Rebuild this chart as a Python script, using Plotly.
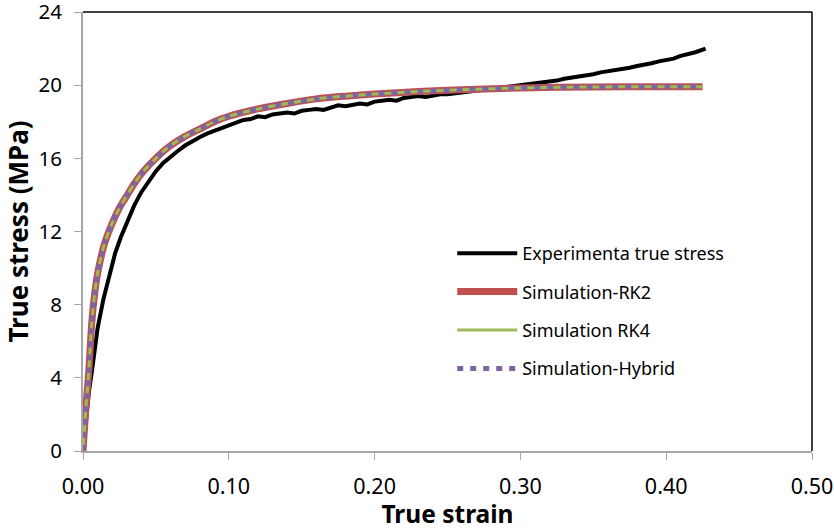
import plotly.graph_objects as go

exp_strain = [0, 0.002, 0.004, 0.006, 0.008, 0.010, 0.014, 0.018, 0.022, 0.026, 0.030, 0.035,
              0.040, 0.045, 0.050, 0.055, 0.060, 0.065, 0.070, 0.075, 0.080, 0.085, 0.090, 0.095,
              0.100, 0.105, 0.110, 0.115, 0.120, 0.125, 0.130, 0.135, 0.140, 0.145, 0.150, 0.155,
              0.160, 0.165, 0.170, 0.175, 0.180, 0.185, 0.190, 0.195, 0.200, 0.205, 0.210, 0.215,
              0.220, 0.225, 0.230, 0.235, 0.240, 0.245, 0.250, 0.255, 0.260, 0.265, 0.270, 0.275,
              0.280, 0.285, 0.290, 0.295, 0.300, 0.305, 0.310, 0.315, 0.320, 0.325, 0.330, 0.335,
              0.340, 0.345, 0.350, 0.355, 0.360, 0.365, 0.370, 0.375, 0.380, 0.385, 0.390, 0.395,
              0.400, 0.405, 0.410, 0.415, 0.420, 0.427]
exp_stress = [0, 1.8, 3.2, 4.3, 5.5, 6.7, 8.3, 9.6, 10.8, 11.7, 12.45, 13.4,
              14.15, 14.75, 15.3, 15.75, 16.1, 16.4, 16.7, 16.95, 17.15, 17.35, 17.5, 17.7,
              17.85, 18.0, 18.1, 18.15, 18.3, 18.25, 18.4, 18.45, 18.5, 18.45, 18.6, 18.65,
              18.7, 18.65, 18.8, 18.9, 18.85, 18.95, 19.0, 18.95, 19.1, 19.15, 19.2, 19.15,
              19.3, 19.35, 19.4, 19.35, 19.45, 19.5, 19.5, 19.55, 19.6, 19.6, 19.65, 19.7,
              19.75, 19.8, 19.85, 19.9, 20.0, 20.05, 20.1, 20.15, 20.2, 20.25, 20.35, 20.4,
              20.45, 20.5, 20.6, 20.7, 20.75, 20.8, 20.9, 20.95, 21.05, 21.1, 21.2, 21.3,
              21.35, 21.45, 21.6, 21.7, 21.8, 22.0]

# Simulation curves (RK2, RK4, Hybrid overlap)
sim_strain = [0, 0.002, 0.004, 0.006, 0.008, 0.010, 0.015, 0.020, 0.025, 0.030, 0.035, 0.040,
              0.045, 0.050, 0.055, 0.060, 0.070, 0.080, 0.090, 0.100, 0.120, 0.140, 0.160,
              0.180, 0.200, 0.230, 0.260, 0.300, 0.350, 0.400, 0.425]
sim_stress = [0, 2.4, 4.4, 7.0, 8.6, 9.7, 11.4, 12.45, 13.3, 13.95, 14.6, 15.15,
              15.6, 16.0, 16.38, 16.7, 17.2, 17.6, 18.0, 18.3, 18.7, 19.0, 19.25,
              19.4, 19.52, 19.65, 19.75, 19.85, 19.9, 19.92, 19.92]

x_ticks = [0, 0.1, 0.2, 0.3, 0.4, 0.5]
y_ticks = [0, 4, 8, 12, 16, 20, 24]

fig = go.Figure()
fig.add_trace(go.Scatter(x=exp_strain, y=exp_stress, mode="lines", name="Experimenta true stress",
                         line=dict(color="#000000", width=4), legendgroup="a"))
fig.add_trace(go.Scatter(x=sim_strain, y=sim_stress, mode="lines", name="Simulation-RK2",
                         line=dict(color="#C0504D", width=7, shape="spline", smoothing=0.8),
                         legendgroup="b"))
fig.add_trace(go.Scatter(x=sim_strain, y=sim_stress, mode="lines", name="Simulation RK4",
                         line=dict(color="#9BBB59", width=3, shape="spline", smoothing=0.8),
                         legendgroup="c"))
fig.add_trace(go.Scatter(x=sim_strain, y=sim_stress, mode="lines", name="Simulation-Hybrid",
                         line=dict(color="#8064A2", width=5, dash="6px,7px", shape="spline",
                                   smoothing=0.8),
                         legendgroup="d"))

fig.update_layout(
    width=834, height=530,
    margin=dict(l=83, r=22, t=12, b=79),
    paper_bgcolor="white", plot_bgcolor="white",
    font=dict(family="Noto Sans", color="#000000"),
    showlegend=True,
    legend=dict(x=0.5065, y=0.492, xanchor="left", yanchor="top",
                font=dict(size=18, family="Noto Sans"),
                tracegroupgap=12, itemwidth=60, bgcolor="rgba(0,0,0,0)"),
    xaxis=dict(range=[0, 0.5], tickvals=x_ticks, tickformat=".2f", automargin=False,
               showgrid=False, zeroline=False, showline=True, linecolor="#A6A6A6", linewidth=2,
               ticks="outside", ticklen=7, tickcolor="#A6A6A6", tickwidth=1,
               ticklabelstandoff=8, ticklabeloverflow="allow",
               tickfont=dict(size=21.5),
               title=dict(text="<b>True strain</b>", font=dict(size=24.5), standoff=4)),
    yaxis=dict(range=[0, 24], tickvals=y_ticks, automargin=False,
               showgrid=False, zeroline=False, showline=True, linecolor="#A6A6A6", linewidth=2,
               ticks="outside", ticklen=7, tickcolor="#A6A6A6", tickwidth=1,
               ticklabelstandoff=8, ticklabeloverflow="allow",
               tickfont=dict(size=20.5),
               title=dict(text="<b>True stress (MPa)</b>", font=dict(size=26), standoff=12)),
    shapes=[
        dict(type="line", xref="paper", yref="paper", x0=0, x1=1, y0=1, y1=1,
             line=dict(color="#000000", width=1.5)),
        dict(type="line", xref="paper", yref="paper", x0=1, x1=1, y0=0, y1=1,
             line=dict(color="#000000", width=1.5)),
    ],
)

fig.write_html("out.html", config={"displayModeBar": False},
               post_script="document.body.style.margin='0px';")
